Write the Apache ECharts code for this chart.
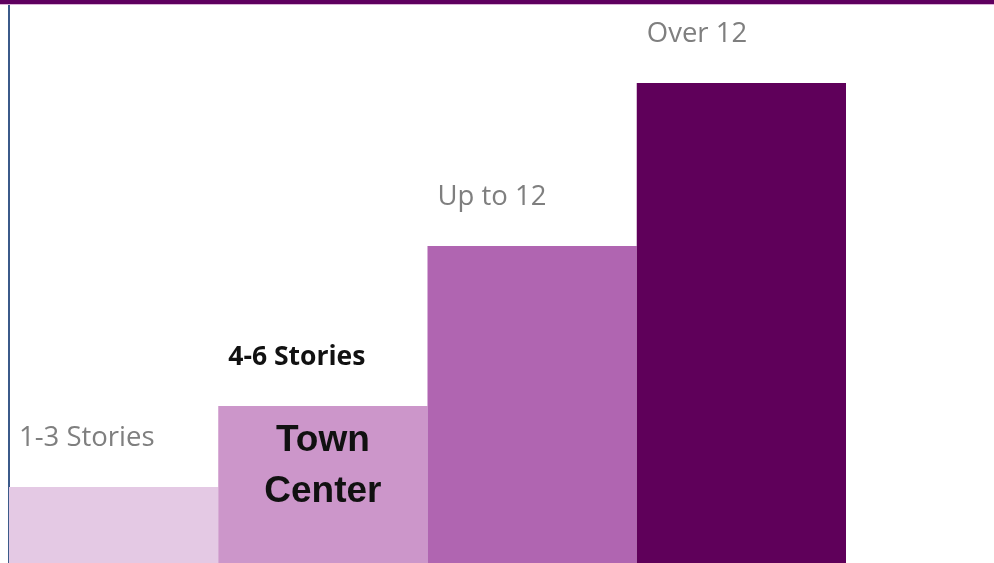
<!DOCTYPE html>
<html lang="en">
<head>
    <meta charset="UTF-8">
    <title>Building heights</title>
    <script src="https://cdn.jsdelivr.net/npm/echarts@6/dist/echarts.min.js"></script>
    <style>
        html, body { margin: 0; padding: 0; background: #fff; }
    </style>
</head>
<body>

<div id="container" style="width: 994px; height: 563px"></div>
<script type="text/javascript">
    // data
    var categories = ['1-3 Stories', '4-6 Stories', 'Up to 12', 'Over 12'];
    var heights = [76, 157, 317, 480];
    var barColors = ['#e4c9e4', '#cc96ca', '#b065b1', '#5f005a'];
    var labelColors = ['#7f7f7f', '#111111', '#7f7f7f', '#7f7f7f'];
    var labelBold = [false, true, false, false];
    var highlightText = 'Town\nCenter';

    var dom = document.getElementById("container");
    var myChart = echarts.init(dom);

    var barData = [];
    for (var i = 0; i < categories.length; i++) {
        barData.push({
            value: heights[i],
            itemStyle: { color: barColors[i] },
            label: {
                color: labelColors[i],
                fontWeight: labelBold[i] ? 'bold' : 'normal',
                fontSize: labelBold[i] ? 26.5 : 27.5
            }
        });
    }

    var option = {
        animation: false,
        grid: { left: 9, right: 148, top: 0, bottom: 0 },
        xAxis: {
            type: 'category',
            data: categories,
            axisLine: { show: false },
            axisTick: { show: false },
            axisLabel: { show: false }
        },
        yAxis: {
            type: 'value',
            min: 0,
            max: 563,
            splitLine: { show: false },
            axisLabel: { show: false },
            axisTick: { show: false },
            axisLine: { show: true, lineStyle: { color: '#3b5a8a', width: 2 } }
        },
        graphic: [
            { type: 'rect', left: 0, top: 0, shape: { width: 994, height: 4 }, style: { fill: '#5f005f' }, z: 100 },
            { type: 'rect', left: 0, top: 4, shape: { width: 994, height: 1 }, style: { fill: '#d9b3d6' }, z: 100 }
        ],
        series: [
            {
                type: 'bar',
                data: barData,
                barCategoryGap: 0,
                label: {
                    show: true,
                    position: [10, -49],
                    verticalAlign: 'middle',
                    formatter: '{b}',
                    fontFamily: 'Open Sans'
                },
                markPoint: {
                    symbol: 'rect',
                    symbolSize: 1,
                    itemStyle: { color: 'rgba(0,0,0,0)' },
                    data: [{
                        coord: [categories[1], heights[1]],
                        label: {
                            show: true,
                            position: 'inside',
                            offset: [0, 60],
                            formatter: highlightText,
                            fontFamily: 'Liberation Sans',
                            fontWeight: 'bold',
                            fontSize: 37,
                            lineHeight: 51,
                            color: '#111111'
                        }
                    }]
                }
            }
        ]
    };
    if (option && typeof option === "object") {
        myChart.setOption(option, true);
    }
</script>
</body>
</html>
